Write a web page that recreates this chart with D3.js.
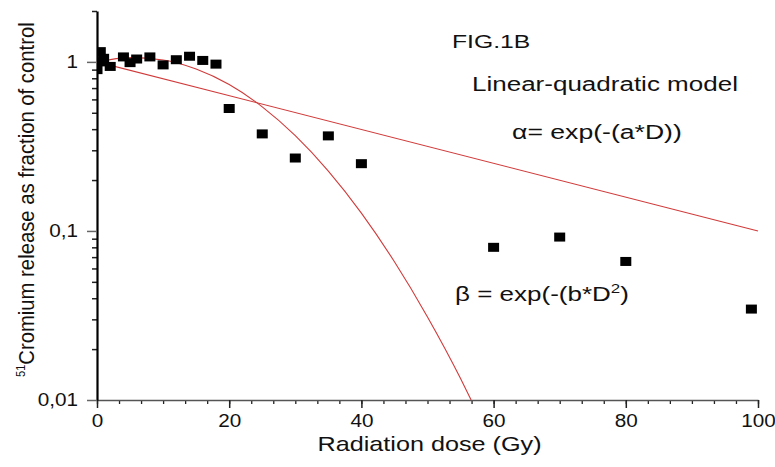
<!DOCTYPE html>
<html>
<head>
<meta charset="utf-8">
<script src="https://cdn.jsdelivr.net/npm/d3@7"></script>
<style>
  body { margin: 0; background: #fff; }
  svg { display: block; font-family: "Liberation Sans", Arial, sans-serif; }
</style>
</head>
<body>
<div id="chart"></div>
<script>
// measured points (dose in Gy, fraction of control)
const doseValues = [0, 0.5, 0.5, 1, 2, 4, 5, 6, 8, 10, 12, 14, 16, 18, 20, 25, 30, 35, 40, 60, 70, 80, 99];
const fractionValues = [0.9, 1.15, 1.0, 1.05, 0.94, 1.07, 0.99, 1.04, 1.07, 0.96, 1.03, 1.08, 1.02, 0.97,
                        0.53, 0.375, 0.27, 0.365, 0.25, 0.08, 0.092, 0.066, 0.0345];

// fitted curves
const linearDose = [0, 100];
const linearFraction = [1, 0.1];
const quadDose = [0, 5, 10, 15, 20, 25, 30, 35, 40, 45, 50, 55, 56.6];
const quadFraction = [1, 1.06, 1.026, 0.907, 0.734, 0.542, 0.366, 0.226, 0.1275, 0.0657, 0.031, 0.0134, 0.01];

// axes
const xMajorTicks = [0, 20, 40, 60, 80, 100];
const yMajorTicks = [0.01, 0.1, 1];
const yTickLabels = ['0,01', '0,1', '1'];
const yMinorTicks = [0.02, 0.03, 0.04, 0.05, 0.06, 0.07, 0.08, 0.09,
                     0.2, 0.3, 0.4, 0.5, 0.6, 0.7, 0.8, 0.9, 2];

const width = 775, height = 467;
const red = '#d03a3a';
const stretch = 1.15;

const svg = d3.select('#chart').append('svg')
  .attr('width', width)
  .attr('height', height);

const x = d3.scaleLinear().domain([0, 100]).range([97, 758]);
const y = d3.scaleLog().domain([0.01, 2]).range([400, 11]);

// widen text horizontally like the source scan
function widen(sel, k) {
  sel.each(function () {
    const w = this.getComputedTextLength();
    d3.select(this).attr('textLength', w * k).attr('lengthAdjust', 'spacingAndGlyphs');
  });
}

// x axis
const xMinor = svg.append('g')
  .attr('transform', `translate(0,${y(0.01)})`)
  .call(d3.axisBottom(x).tickValues(d3.range(0, 100.001, 20 / 6)).tickSize(4).tickSizeOuter(0).tickFormat(''));
xMinor.select('.domain').remove();
xMinor.selectAll('line').attr('stroke', '#222').attr('stroke-width', 1.3);

const xAxis = svg.append('g')
  .attr('transform', `translate(0,${y(0.01)})`)
  .call(d3.axisBottom(x).tickValues(xMajorTicks).tickSize(8).tickSizeOuter(0).tickPadding(6)
    .tickFormat(d3.format('d')));
xAxis.select('.domain').attr('stroke', '#555').attr('stroke-width', 1.5);
xAxis.selectAll('line').attr('stroke', '#222').attr('stroke-width', 1.5);
xAxis.selectAll('text').attr('font-size', 18).attr('fill', '#111').call(widen, stretch);

// y axis
const yMinor = svg.append('g')
  .attr('transform', `translate(${x(0)},0)`)
  .call(d3.axisLeft(y).tickValues(yMinorTicks).tickSize(5).tickSizeOuter(0).tickFormat(''));
yMinor.select('.domain').remove();
yMinor.selectAll('line').attr('stroke', '#222').attr('stroke-width', 1.5);

const yAxis = svg.append('g')
  .attr('transform', `translate(${x(0)},0)`)
  .call(d3.axisLeft(y).tickValues(yMajorTicks).tickSize(10).tickSizeOuter(0).tickPadding(9)
    .tickFormat((d, i) => yTickLabels[i]));
yAxis.select('.domain').attr('stroke', '#000').attr('stroke-width', 2.2);
yAxis.selectAll('line').attr('stroke', '#666').attr('stroke-width', 1.5);
yAxis.selectAll('text').attr('font-size', 18).attr('fill', '#111').call(widen, stretch);

// curves
svg.append('defs').append('clipPath').attr('id', 'plot')
  .append('rect').attr('x', x(0)).attr('y', 0).attr('width', x(100) - x(0)).attr('height', y(0.01));

const line = d3.line().x(d => x(d[0])).y(d => y(d[1])).curve(d3.curveMonotoneX);

svg.append('path')
  .datum(linearDose.map((d, i) => [d, linearFraction[i]]))
  .attr('d', line)
  .attr('fill', 'none').attr('stroke', red).attr('stroke-width', 1.1);

svg.append('path')
  .datum(quadDose.map((d, i) => [d, quadFraction[i]]))
  .attr('d', line)
  .attr('fill', 'none').attr('stroke', red).attr('stroke-width', 1.1);

// data squares
const mw = 11, mh = 9;
svg.append('g').attr('clip-path', 'url(#plot)')
  .selectAll('rect')
  .data(doseValues.map((d, i) => [d, fractionValues[i]]))
  .join('rect')
  .attr('x', d => x(d[0]) - mw / 2)
  .attr('y', d => y(d[1]) - mh / 2)
  .attr('width', mw)
  .attr('height', mh)
  .attr('fill', '#000');

// titles and notes
svg.append('text')
  .attr('x', (x(0) + x(100)) / 2 + 2).attr('y', 451)
  .attr('text-anchor', 'middle')
  .attr('font-size', 21).attr('fill', '#111')
  .text('Radiation dose (Gy)')
  .call(widen, 1.2);

// rotated y label, squeezed along its length with a transform
const yLabel = svg.append('text').attr('fill', '#111');
yLabel.append('tspan').attr('font-size', 12).attr('dy', -9).text('51');
yLabel.append('tspan').attr('font-size', 22).attr('dy', 9).text('Cromium release as fraction of control');
const yLabelLen = yLabel.node().getComputedTextLength();
yLabel.attr('transform', `translate(34,377) rotate(-90) scale(${355 / yLabelLen},1)`);

const notes = svg.append('g').attr('fill', '#111');
notes.append('text').attr('x', 452).attr('y', 48).attr('font-size', 19).text('FIG.1B').call(widen, 1.3);
notes.append('text').attr('x', 472).attr('y', 91).attr('font-size', 20).text('Linear-quadratic model').call(widen, 1.3);
notes.append('text').attr('x', 512).attr('y', 139).attr('font-size', 20).text('\u03b1= exp(-(a*D))').call(widen, 1.33);

const beta = notes.append('text').attr('x', 455).attr('y', 301).attr('font-size', 20);
beta.append('tspan').text('\u03b2 = exp(-(b*D');
beta.append('tspan').attr('font-size', 13).attr('dy', -8).text('2');
beta.append('tspan').attr('dy', 8).text(')');
beta.call(widen, 1.3);
</script>
</body>
</html>
